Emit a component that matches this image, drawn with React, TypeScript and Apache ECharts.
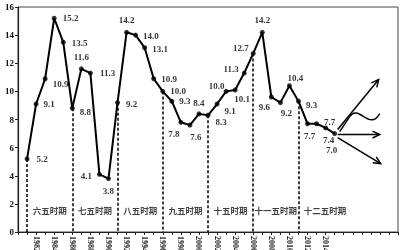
import React, { useEffect, useRef } from 'react';
import * as echarts from 'echarts';

const years = [1981, 1982, 1983, 1984, 1985, 1986, 1987, 1988, 1989, 1990, 1991, 1992, 1993, 1994, 1995, 1996, 1997, 1998, 1999, 2000, 2001, 2002, 2003, 2004, 2005, 2006, 2007, 2008, 2009, 2010, 2011, 2012, 2013, 2014, 2015];
const growth = [5.2, 9.1, 10.9, 15.2, 13.5, 8.8, 11.6, 11.3, 4.1, 3.8, 9.2, 14.2, 14.0, 13.1, 10.9, 10.0, 9.3, 7.8, 7.6, 8.4, 8.3, 9.1, 10.0, 10.1, 11.3, 12.7, 14.2, 9.6, 9.2, 10.4, 9.3, 7.7, 7.7, 7.4, 7.0];
const periodNames = ['六五时期', '七五时期', '八五时期', '九五时期', '十五时期', '十一五时期', '十二五时期'];
const periodStartYears = [1981, 1986, 1991, 1996, 2001, 2006, 2011];
const xLabelYears = [1982, 1984, 1986, 1988, 1990, 1992, 1994, 1996, 1998, 2000, 2002, 2004, 2006, 2008, 2010, 2012, 2014];

const SERIF = '"Liberation Serif", "DejaVu Serif", serif';
const CJK = '"Noto Sans CJK SC", sans-serif';

// label placement per point: [position, dx, dy]
const placement: [string, number, number][] = [
  ['right', 2, 0], ['right', 0, 0], ['right', 0, 5], ['right', 1, 0], ['right', 1, 1],
  ['right', 0, 4], ['top', 0, 0], ['right', 2, 0], ['left', 0, 2], ['bottom', 0, 0],
  ['right', 1, 1], ['top', 0, 0], ['right', 0, 1], ['right', 0, 1], ['right', 0, 0],
  ['right', 0, 0], ['right', 0, 0], ['bottom', -7, 0], ['bottom', 6, 0], ['top', 0, 1],
  ['right', 0, 7], ['right', 0, 7], ['left', 6, -5], ['bottom', 7, -3], ['left', 2, -4],
  ['left', 3, -5], ['top', 0, 0], ['bottom', -7, -2], ['bottom', 6, -2], ['top', 6, 4],
  ['right', 0, 4], ['bottom', 2, 0], ['right', 0, -2], ['bottom', 3, 0], ['bottom', -3, 4],
];

export default function App() {
  const ref = useRef<HTMLDivElement>(null);
  useEffect(() => {
    if (!ref.current) return;
    const chart = echarts.init(ref.current, null, { renderer: 'svg' });
    const labelBase = {
      show: true,
      fontSize: 9,
      fontWeight: 'bold',
      fontFamily: SERIF,
      color: '#000',
      distance: 5,
    };
    const pointData = years.map((y, i) => ({
      value: [y, growth[i]],
      label: {
        position: placement[i][0] as any,
        offset: [placement[i][1], placement[i][2]],
      },
    }));
    const markLineData = periodStartYears.map((y) => {
      const v = growth[years.indexOf(y)];
      return [{ coord: [y, v] }, { coord: [y, 0] }];
    });
    const periodData = periodStartYears.map((y, i) => ({
      value: [y + 2.5, 1.56, periodNames[i]],
      label: { offset: [i === periodStartYears.length - 1 ? 4 : 0, 0] },
    }));

    chart.setOption({
      animation: false,
      backgroundColor: '#fff',
      grid: { left: 18, right: 2, top: 7, bottom: 18, show: true, borderColor: '#444', borderWidth: 1, containLabel: false, outerBoundsMode: 'none' },
      xAxis: {
        type: 'value',
        min: 1980,
        max: 2022,
        interval: 1,
        splitLine: { show: false },
        axisLine: { show: true, onZero: false, lineStyle: { color: '#222', width: 1.2 } },
        axisTick: { show: true, length: 3, lineStyle: { color: '#222' } },
        axisLabel: {
          rotate: -90,
          margin: 4,
          fontSize: 8,
          fontWeight: 'bold',
          fontFamily: SERIF,
          color: '#222',
          formatter: (v: number) => (xLabelYears.indexOf(v) >= 0 ? String(v) : ''),
        },
      },
      yAxis: {
        type: 'value',
        min: 0,
        max: 16,
        interval: 2,
        splitLine: { show: false },
        axisLine: { show: true, lineStyle: { color: '#222', width: 1.2 } },
        axisTick: { show: true, length: 3, lineStyle: { color: '#222' } },
        axisLabel: { margin: 4, fontSize: 9, fontWeight: 'bold', fontFamily: SERIF, color: '#111' },
      },
      series: [
        {
          type: 'line',
          data: years.map((y, i) => [y, growth[i]]),
          showSymbol: false,
          color: '#000',
          lineStyle: { color: '#000', width: 2 },
          emphasis: { disabled: true },
          markLine: {
            silent: true,
            symbol: ['none', 'none'],
            label: { show: false },
            emphasis: { disabled: true },
            lineStyle: { color: '#000', type: [3, 2], width: 1.5 },
            data: markLineData,
          },
          z: 2,
        },
        {
          type: 'scatter',
          data: pointData,
          symbol: 'circle',
          symbolSize: 5,
          color: '#000',
          itemStyle: { color: '#000' },
          emphasis: { disabled: true },
          label: {
            ...labelBase,
            formatter: (p: any) => p.value[1].toFixed(1),
          },
          z: 3,
        },
        {
          type: 'scatter',
          data: periodData,
          symbolSize: 0,
          color: '#000',
          emphasis: { disabled: true },
          label: {
            show: true,
            position: 'inside',
            fontSize: 8.5,
            fontWeight: 'bold',
            fontFamily: CJK,
            color: '#111',
            formatter: (p: any) => p.value[2],
          },
        },
      ],
    });

    const [px, py] = chart.convertToPixel({ xAxisIndex: 0, yAxisIndex: 0 }, [years[years.length - 1], growth[growth.length - 1]]) as number[];
    const st = { stroke: '#000', lineWidth: 1.5, fill: 'none' };
    const arrow = (x1: number, y1: number, x2: number, y2: number) => {
      const ang = Math.atan2(y2 - y1, x2 - x1);
      const L = 8, a = 0.45;
      return [
        { type: 'line', shape: { x1, y1, x2, y2 }, style: st },
        {
          type: 'polyline',
          shape: {
            points: [
              [x2 - L * Math.cos(ang - a), y2 - L * Math.sin(ang - a)],
              [x2, y2],
              [x2 - L * Math.cos(ang + a), y2 - L * Math.sin(ang + a)],
            ],
          },
          style: st,
        },
      ];
    };
    chart.setOption({
      graphic: [
        ...arrow(px + 3, py - 4, px + 44, py - 54),
        { type: 'line', shape: { x1: px + 5, y1: py - 2, x2: px + 15, y2: py - 17 }, style: st },
        { type: 'bezierCurve', shape: { x1: px + 15, y1: py - 17, x2: px + 45, y2: py - 20, cpx1: px + 24, cpy1: py - 30, cpx2: px + 35, cpy2: py - 2 }, style: st },
        ...arrow(px + 3, py + 1, px + 45, py + 1),
        ...arrow(px + 3, py + 4, px + 46, py + 30),
      ],
    });
    return () => chart.dispose();
  }, []);
  return <div ref={ref} style={{ position: 'fixed', left: 0, top: 0, width: 400, height: 250, background: '#fff', filter: 'grayscale(1)' }} />;
}
